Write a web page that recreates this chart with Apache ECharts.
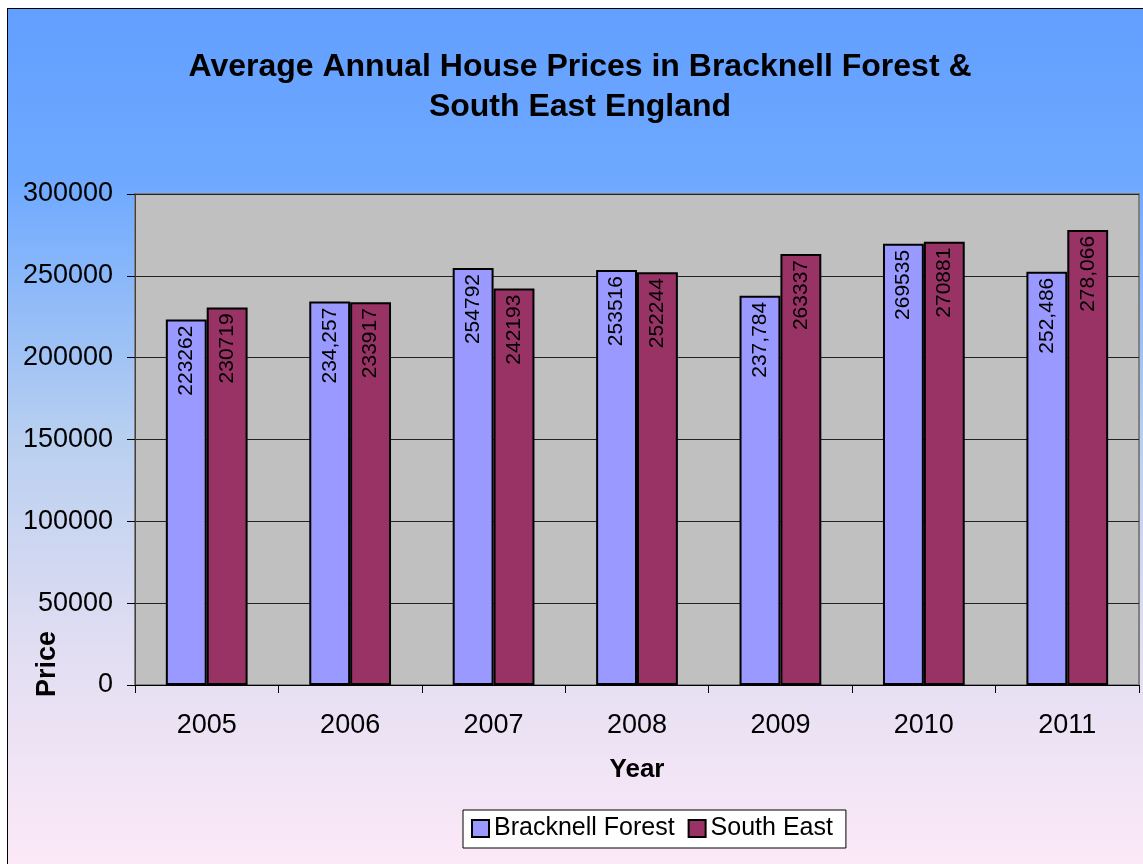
<!DOCTYPE html>
<html>
<head>
<meta charset="utf-8">
<script src="https://cdn.jsdelivr.net/npm/echarts@6/dist/echarts.min.js"></script>
<style>
  html, body { margin: 0; padding: 0; background: #fff; overflow: hidden; }
  #frame { position: absolute; left: 7px; top: 8px; border-left: 1px solid #000; border-top: 1px solid #000; }
  #chart { width: 1144px; height: 856px; }
</style>
</head>
<body>
<div id="frame"><div id="chart"></div></div>
<script>
// data
const years = ["2005", "2006", "2007", "2008", "2009", "2010", "2011"];
const bracknell = [223262, 234257, 254792, 253516, 237784, 269535, 252486];
const southEast = [230719, 233917, 242193, 252244, 263337, 270881, 278066];
// label text as printed on the bars (some with thousands separators, some without)
const bracknellLabels = ["223262", "234,257", "254792", "253516", "237,784", "269535", "252,486"];
const southEastLabels = ["230719", "233917", "242193", "252244", "263337", "270881", "278,066"];

const FONT = "Liberation Sans, Arial, sans-serif";

const chart = echarts.init(document.getElementById("chart"));

function barLabel(texts) {
  return {
    show: true,
    position: "insideTop",
    rotate: 90,
    align: "right",
    verticalAlign: "middle",
    distance: 6,
    color: "#000",
    fontFamily: FONT,
    fontSize: 21,
    formatter: (p) => texts[p.dataIndex]
  };
}

chart.setOption({
  animation: false,
  backgroundColor: {
    type: "linear", x: 0, y: 0, x2: 0, y2: 1,
    colorStops: [
      { offset: 0, color: "#629FFF" },
      { offset: 0.2, color: "#6EA9FF" },
      { offset: 0.5, color: "#B8CFF0" },
      { offset: 0.75, color: "#E2DEF2" },
      { offset: 1, color: "#FCE9F8" }
    ]
  },
  title: {
    text: "Average Annual House Prices in Bracknell Forest &\nSouth East England",
    left: "center",
    top: 38,
    padding: 0,
    textStyle: { fontFamily: FONT, fontSize: 32, fontWeight: "bold", color: "#000", lineHeight: 40 }
  },
  legend: {
    left: 455,
    top: 801,
    padding: [6, 13, 7, 8],
    backgroundColor: "#fff",
    borderColor: "#000",
    borderWidth: 1,
    icon: "rect",
    itemWidth: 17,
    itemHeight: 17,
    itemGap: 13,
    itemStyle: { borderColor: "#000", borderWidth: 2 },
    textStyle: { fontFamily: FONT, fontSize: 25, color: "#000" },
    data: ["Bracknell Forest", "South East"]
  },
  grid: {
    left: 127,
    right: 13,
    top: 185,
    bottom: 180,
    show: true,
    backgroundColor: "#C0C0C0",
    borderColor: "#808080",
    borderWidth: 2
  },
  xAxis: {
    type: "category",
    data: years,
    name: "Year",
    nameLocation: "middle",
    nameGap: 72,
    nameTextStyle: { fontFamily: FONT, fontSize: 26, fontWeight: "bold", color: "#000" },
    axisLine: { show: true, lineStyle: { color: "#000", width: 1 } },
    axisTick: { show: true, length: 8, lineStyle: { color: "#000" } },
    axisLabel: { fontFamily: FONT, fontSize: 27, color: "#000", margin: 27 },
    splitLine: { show: false }
  },
  yAxis: {
    type: "value",
    min: 0,
    max: 300000,
    interval: 50000,
    axisLine: { show: true, lineStyle: { color: "#404040", width: 1 } },
    axisTick: { show: true, length: 8, lineStyle: { color: "#000" } },
    axisLabel: { fontFamily: FONT, fontSize: 27, color: "#000", margin: 22, formatter: (v) => String(v) },
    splitLine: { show: true, lineStyle: { color: "#222", width: 1 } }
  },
  graphic: [{
    type: "text",
    x: 40,
    y: 655,
    rotation: Math.PI / 2,
    style: {
      text: "Price",
      fontFamily: FONT,
      fontSize: 27,
      fontWeight: "bold",
      fill: "#000",
      align: "center",
      verticalAlign: "middle"
    }
  }],
  series: [
    {
      name: "Bracknell Forest",
      type: "bar",
      data: bracknell,
      barGap: "0%",
      barCategoryGap: "43%",
      itemStyle: { color: "#9999FF", borderColor: "#000", borderWidth: 2 },
      label: barLabel(bracknellLabels)
    },
    {
      name: "South East",
      type: "bar",
      data: southEast,
      itemStyle: { color: "#993366", borderColor: "#000", borderWidth: 2 },
      label: barLabel(southEastLabels)
    }
  ]
});
</script>
</body>
</html>
